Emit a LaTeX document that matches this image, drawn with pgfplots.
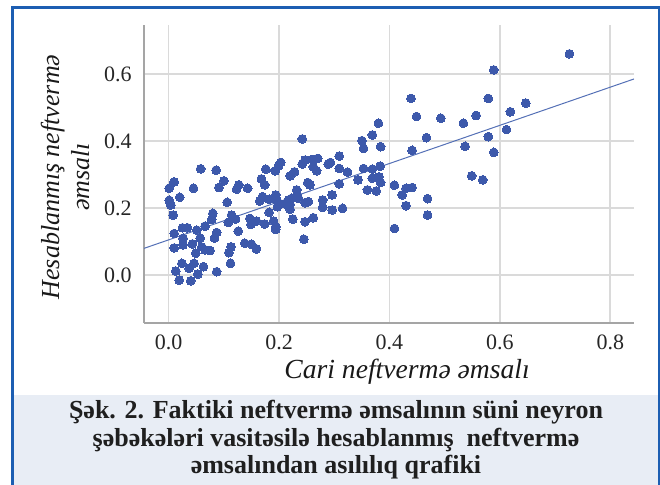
\documentclass[border=0pt]{standalone}
\usepackage{pgfplots}
\pgfplotsset{compat=1.18}
\usepackage{fontspec}
\setmainfont{Liberation Serif}
\definecolor{dotblue}{RGB}{61,89,171}
\definecolor{lineblue}{RGB}{84,112,182}
\definecolor{frameblue}{RGB}{28,94,178}
\definecolor{capfill}{RGB}{232,237,245}
\definecolor{gridgray}{RGB}{218,218,218}
\definecolor{axgray}{RGB}{165,165,165}
\begin{document}
\begin{tikzpicture}
\useasboundingbox (0,0) rectangle (330pt,-242.5pt);
\fill[capfill] (6pt,-197.5pt) rectangle (330pt,-242.5pt);
\draw[frameblue, line width=1.5pt] (6pt,-243pt) -- (6pt,-4pt) -- (329.5pt,-4pt) -- (329.5pt,-243pt);
\begin{axis}[
  at={(72pt,-161.5pt)}, anchor=south west,
  scale only axis, width=245pt, height=149pt,
  xmin=-0.0447, xmax=0.843, ymin=-0.143, ymax=0.746,
  axis x line*=bottom, axis y line*=left,
  axis line style={-, draw=axgray, line width=0.75pt},
  major tick length=0pt,
  xtick={0,0.2,0.4,0.6,0.8}, ytick={0,0.2,0.4,0.6},
  grid=major, grid style={gridgray, line width=0.8pt},
  /pgf/number format/.cd, fixed, fixed zerofill, precision=1, assume math mode=true,
  /pgfplots/.cd,
  ticklabel style={font=\fontsize{11}{12}\selectfont, text=black!85},
  xticklabel style={yshift=-2.5pt},
  yticklabel style={xshift=-2.7pt},
  xlabel={Cari neftvermə əmsalı},
  xlabel style={at={(axis description cs:0.537,-0.164)}, anchor=center, font=\itshape\fontsize{13.8}{15}\selectfont, text=black!90},
  ylabel={Hesablanmış neftvermə\\əmsalı},
  ylabel style={at={(axis description cs:-0.161,0.49)}, anchor=center, align=center, font=\itshape\fontsize{13}{15}\selectfont, text=black!90},
]
\addplot[lineblue, line width=0.5pt] coordinates {(-0.0447,0.0796) (0.843,0.585)};
\addplot[only marks, color=dotblue, mark=*, mark size=2.2pt, mark options={fill=dotblue, draw=dotblue, line width=0pt}] table {
x y
0.726 0.660
0.589 0.612
0.439 0.527
0.579 0.527
0.647 0.513
0.619 0.487
0.449 0.473
0.493 0.468
0.557 0.476
0.534 0.453
0.467 0.410
0.579 0.413
0.612 0.434
0.441 0.372
0.537 0.384
0.589 0.366
0.549 0.296
0.569 0.284
0.409 0.268
0.430 0.259
0.441 0.261
0.423 0.239
0.430 0.207
0.469 0.228
0.469 0.179
0.409 0.139
0.380 0.453
0.369 0.418
0.350 0.401
0.353 0.378
0.384 0.383
0.309 0.355
0.309 0.318
0.324 0.307
0.353 0.318
0.369 0.316
0.383 0.325
0.343 0.284
0.369 0.289
0.381 0.293
0.384 0.276
0.360 0.254
0.376 0.251
0.309 0.272
0.296 0.239
0.315 0.199
0.296 0.194
0.242 0.406
0.293 0.336
0.289 0.331
0.270 0.348
0.260 0.345
0.247 0.343
0.242 0.331
0.262 0.323
0.268 0.311
0.228 0.308
0.220 0.296
0.252 0.276
0.256 0.269
0.232 0.254
0.232 0.239
0.217 0.224
0.212 0.212
0.220 0.211
0.247 0.216
0.253 0.219
0.220 0.196
0.279 0.224
0.279 0.202
0.225 0.167
0.247 0.159
0.262 0.171
0.245 0.107
0.235 0.229
0.223 0.229
0.203 0.336
0.199 0.326
0.193 0.311
0.176 0.316
0.197 0.221
0.194 0.239
0.197 0.204
0.182 0.226
0.170 0.234
0.165 0.221
0.174 0.269
0.168 0.287
0.182 0.187
0.190 0.161
0.194 0.136
0.194 0.144
0.174 0.152
0.159 0.161
0.147 0.169
0.149 0.151
0.143 0.259
0.138 0.095
0.150 0.092
0.159 0.078
0.127 0.269
0.123 0.256
0.106 0.217
0.114 0.179
0.121 0.167
0.108 0.157
0.126 0.131
0.113 0.084
0.109 0.067
0.112 0.035
0.100 0.281
0.091 0.261
0.086 0.313
0.058 0.317
0.045 0.259
0.010 0.278
0.001 0.259
0.020 0.232
0.001 0.223
0.004 0.209
0.008 0.179
0.010 0.124
0.010 0.081
0.025 0.141
0.034 0.141
0.026 0.110
0.026 0.090
0.051 0.134
0.057 0.110
0.043 0.093
0.060 0.084
0.066 0.075
0.075 0.073
0.049 0.065
0.066 0.146
0.078 0.166
0.080 0.184
0.087 0.127
0.083 0.110
0.024 0.035
0.013 0.012
0.037 0.020
0.046 0.035
0.063 0.025
0.053 0.003
0.019 -0.015
0.040 -0.017
0.087 0.010
};
\end{axis}
\node[align=center, font=\bfseries\fontsize{13}{13.75}\selectfont, text=black!88] at (168pt,-220pt)
  {Şək. 2. Faktiki neftvermə əmsalının süni neyron\\şəbəkələri vasitəsilə hesablanmış\ \ neftvermə\\əmsalından asılılıq qrafiki};
\end{tikzpicture}
\end{document}
